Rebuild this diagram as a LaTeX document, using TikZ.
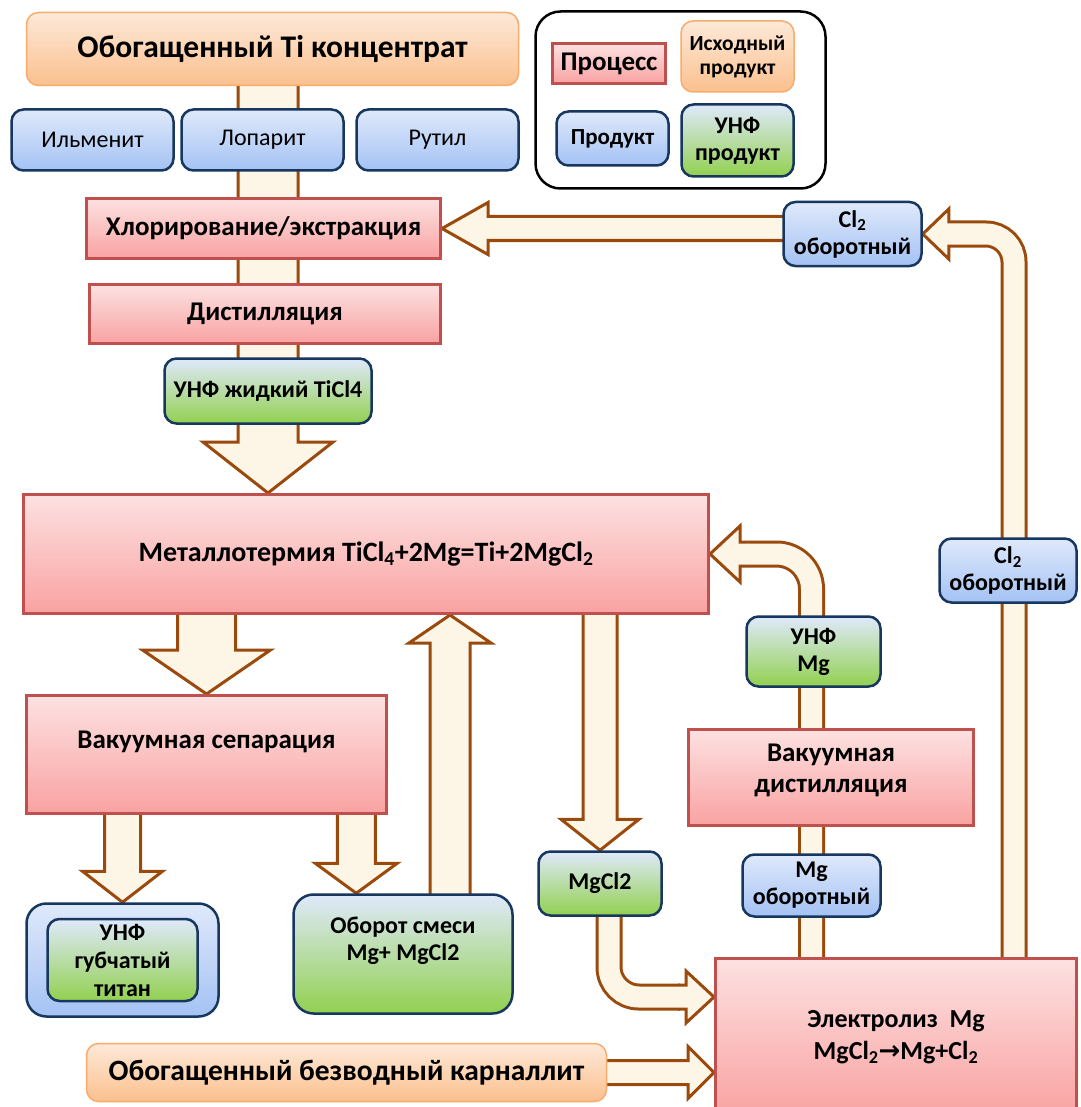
\documentclass[tikz,border=0pt]{standalone}
\usepackage{fontspec}
\setmainfont{Carlito}
\newfontfamily\arrowfont{DejaVu Sans}
\usetikzlibrary{calc,backgrounds}

\definecolor{procline}{HTML}{C0504D}
\definecolor{proctop}{HTML}{FDE1E1}
\definecolor{procbot}{HTML}{F9A2A2}
\definecolor{prodline}{HTML}{17375E}
\definecolor{prodtop}{HTML}{DFE9FB}
\definecolor{prodbot}{HTML}{A4C2F4}
\definecolor{unfbot}{HTML}{92D050}
\definecolor{srcline}{HTML}{F8AC6C}
\definecolor{srctop}{HTML}{FDE9D9}
\definecolor{srcbot}{HTML}{FBC08E}
\definecolor{pipefill}{HTML}{FDF5E6}
\definecolor{pipeline}{HTML}{9A4A0C}

\begin{document}
\begin{tikzpicture}[x=1pt,y=-1pt]
  \tikzstyle{process}=[draw=procline,line width=3pt,top color=proctop,bottom color=procbot,
    font=\bfseries\fontsize{27}{31}\selectfont,align=center,inner sep=0pt]
  \tikzstyle{product}=[draw=prodline,line width=2.5pt,rounded corners=12pt,top color=prodtop,
    bottom color=prodbot,font=\bfseries\fontsize{24}{27}\selectfont,align=center,inner sep=0pt]
  \tikzstyle{unf}=[product,bottom color=unfbot]
  \tikzstyle{source}=[draw=srcline,line width=1.5pt,rounded corners=12pt,top color=srctop,
    bottom color=srcbot,font=\bfseries\fontsize{31.5}{36}\selectfont,align=center,inner sep=0pt]
  \tikzstyle{fat}=[draw=pipeline,line width=3pt,fill=pipefill]
  \tikzstyle{tube}=[draw=pipeline,line width=3pt,double=pipefill,double distance=21pt]

  \useasboundingbox (0,0) rectangle (1080,1107);

  % titanium line
  \node[source,minimum width=492pt,minimum height=73pt] (conc) at (272.5,49) {Обогащенный Ti концентрат};
  \node[product,font=\fontsize{24}{27}\selectfont,minimum width=162pt,minimum height=61pt] (ilm) at (92.5,140) {Ильменит};
  \node[product,font=\fontsize{24}{27}\selectfont,minimum width=162pt,minimum height=61pt] (lop) at (262.5,140) {Лопарит};
  \node[product,font=\fontsize{24}{27}\selectfont,minimum width=162pt,minimum height=61pt] (rut) at (437.5,140) {Рутил};
  \node[process,minimum width=354pt,minimum height=60pt] (chlor) at (263.5,228.5) {Хлорирование/экстракция};
  \node[process,minimum width=351pt,minimum height=59pt] (dist) at (265,314) {Дистилляция};
  \node[unf,minimum width=207pt,minimum height=65pt] (ticl) at (268,391) {УНФ жидкий TiCl4};
  \node[process,font=\bfseries\fontsize{28}{31}\selectfont,minimum width=685pt,minimum height=119pt] (metal) at (366,554)
    {Металлотермия TiCl\textsubscript{4}+2Mg=Ti+2MgCl\textsubscript{2}};
  \node[process,minimum width=360pt,minimum height=118pt,text depth=30pt] (sep) at (206.5,754.5) {Вакуумная сепарация};
  \node[product,rounded corners=20pt,minimum width=192pt,minimum height=113pt] (sponge) at (122.5,960) {};
  \node[unf,font=\bfseries\fontsize{24}{28}\selectfont,minimum width=150pt,minimum height=82pt] (sponge-in) at (sponge.center)
    {УНФ\\губчатый\\титан};
  \node[unf,rounded corners=20pt,minimum width=219pt,minimum height=119pt,text depth=30pt] (mix) at (403,954)
    {Оборот смеси\\Mg+ MgCl2};

  % magnesium and chlorine line
  \node[unf,minimum width=123pt,minimum height=64pt] (mgcl) at (600,883.5) {MgCl2};
  \node[process,font=\bfseries\fontsize{26}{32}\selectfont,minimum width=361pt,minimum height=157pt] (elec) at (896,1037)
    {Электролиз~~Mg\\MgCl\textsubscript{2}{\arrowfont\bfseries →}Mg+Cl\textsubscript{2}};
  \node[source,font=\bfseries\fontsize{29.5}{34}\selectfont,minimum width=520pt,minimum height=58pt] (karn) at (346.5,1072.5)
    {Обогащенный безводный карналлит};
  \node[process,minimum width=285pt,minimum height=96pt,text depth=19pt] (vdist) at (831,777.5) {Вакуумная\\дистилляция};
  \node[product,minimum width=138pt,minimum height=62pt] (mgret) at (811.5,885.5) {Mg\\оборотный};
  \node[unf,minimum width=134pt,minimum height=70pt] (unfmg) at (813.5,651.5) {УНФ\\Mg};
  \node[product,minimum width=138pt,minimum height=64pt] (cl2a) at (852.5,234) {Cl\textsubscript{2}\\оборотный};
  \node[product,minimum width=137pt,minimum height=64pt] (cl2b) at (1008,570.5) {Cl\textsubscript{2}\\оборотный};

  % legend
  \node[draw,line width=2.5pt,rounded corners=25pt,minimum width=290pt,minimum height=177pt] (legend) at (680.5,100) {};
  \node[process,minimum width=113pt,minimum height=40pt] (lproc) at (609,63.5) {Процесс};
  \node[source,font=\bfseries\fontsize{21.5}{24}\selectfont,minimum width=113pt,minimum height=71pt] (lsrc) at (737.5,56.5)
    {Исходный\\продукт};
  \node[product,font=\bfseries\fontsize{23}{27}\selectfont,minimum width=112pt,minimum height=54pt] (lprod) at (612.5,138.5)
    {Продукт};
  \node[unf,minimum width=112pt,minimum height=72pt] (lunf) at (737.5,140.5) {УНФ\\продукт};

  \begin{pgfonlayer}{background}
    \fill[white] (0,0) rectangle (1080,1107);

    % concentrate down to the reactor
    \filldraw[fat] (ticl.south |- metal.north) -- ++(-65,-51) -- ++(35,0) -- ++(0,-360) -- ++(60,0)
      -- ++(0,360) -- ++(35,0) -- cycle;
    % chlorine back to chlorination
    \filldraw[fat] (chlor.east) -- ++(46,-26) -- ++(0,14) -- ++(300,0) -- ++(0,24) -- ++(-300,0)
      -- ++(0,14) -- cycle;
    \draw[tube,rounded corners=28pt] ($(elec.north east)+(-64,6)$) |- ($(cl2a.east)+(34,0)$);
    \filldraw[fat] ($(cl2a.east)+(34,-12)$) -- ++(-8,0) -- ++(0,-13) -- (cl2a.east) -- ++(26,25)
      -- ++(0,-13) -- ++(8,0);
    % magnesium back to the reactor
    \draw[tube,rounded corners=35pt] ($(mgret.south |- elec.north)+(0,6)$) |- ($(metal.east)+(38,0)$);
    \filldraw[fat] ($(metal.east)+(38,-12)$) -- ++(-8,0) -- ++(0,-16) -- (metal.east) -- ++(30,28)
      -- ++(0,-16) -- ++(8,0);
    % magnesium chloride and carnallite to electrolysis
    \draw[tube,rounded corners=30pt] ($(mgcl.south)+(9,-4)$) |- ($(elec.north west)+(-34,40)$);
    \filldraw[fat] ($(elec.north west)+(-36,28)$) -- ++(8,0) -- ++(0,-14) -- ($(elec.north west)+(0,40)$)
      -- ++(-28,26) -- ++(0,-14) -- ++(-8,0);
    \filldraw[fat] (elec.west |- karn.east) -- ++(-26,-26) -- ++(0,14) -- ++(-84,0) -- ++(0,24)
      -- ++(84,0) -- ++(0,14) -- cycle;
    % reactor outputs
    \filldraw[fat] (sep.north) -- ++(-64,-44) -- ++(35,0) -- ++(0,-40) -- ++(58,0) -- ++(0,40)
      -- ++(35,0) -- cycle;
    \filldraw[fat] (mgcl.north) -- ++(-39,-31) -- ++(22,0) -- ++(0,-210) -- ++(34,0) -- ++(0,210)
      -- ++(22,0) -- cycle;
    % separation products
    \filldraw[fat] (sponge.north) -- ++(-40,-31) -- ++(22,0) -- ++(0,-60) -- ++(36,0) -- ++(0,60)
      -- ++(22,0) -- cycle;
    \filldraw[fat] ($(mix.north west)+(64,0)$) -- ++(-41,-30) -- ++(22,0) -- ++(0,-52) -- ++(38,0)
      -- ++(0,52) -- ++(22,0) -- cycle;
    % mixture back to the reactor
    \filldraw[fat] ($(metal.south west)+(428,0)$) -- ++(-41,28) -- ++(21,0) -- ++(0,255) -- ++(40,0)
      -- ++(0,-255) -- ++(21,0) -- cycle;
  \end{pgfonlayer}
\end{tikzpicture}
\end{document}
